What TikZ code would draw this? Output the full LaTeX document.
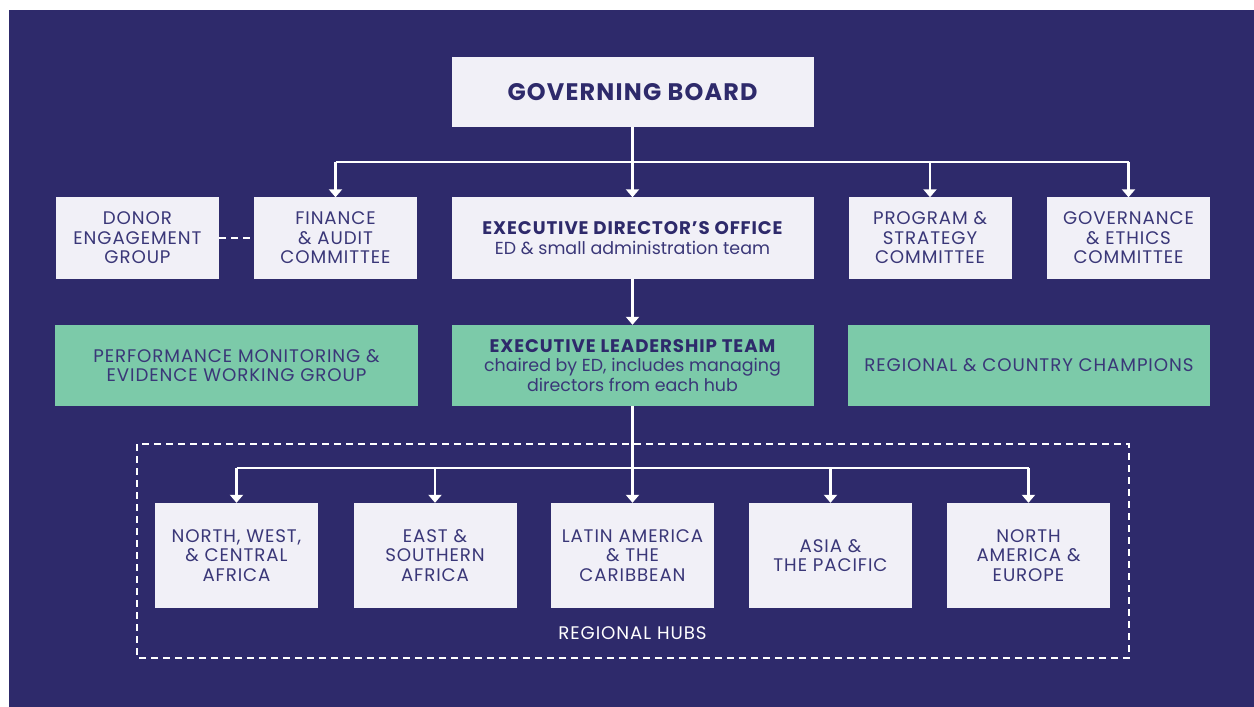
\documentclass[tikz,border=0pt]{standalone}
\usepackage{fontspec}
\setmainfont{Poppins}[LetterSpace=5]
\newfontfamily\plainfont{Poppins}
\usetikzlibrary{arrows.meta}

\definecolor{navy}{HTML}{2E2A6B}
\definecolor{paper}{HTML}{F1F0F7}
\definecolor{mint}{HTML}{7CCAA9}
\definecolor{ink}{HTML}{3A3778}

\newcommand{\lowerline}[1]{{\plainfont\fontsize{17.5}{19.5}\selectfont #1}}

\tikzset{
  base/.style={draw=none, inner sep=0pt, align=center, text=ink,
    font=\fontsize{18.3}{19.5}\selectfont},
  whitebox/.style={base, fill=paper},
  greenbox/.style={base, fill=mint},
  smallbox/.style={minimum width=163bp, minimum height=81bp},
  widebox/.style={minimum width=362bp, minimum height=81bp},
  hubbox/.style={whitebox, minimum width=163bp, minimum height=105bp},
  link/.style={draw=white, line width=2.2bp},
  arrowlink/.style={link, -{Triangle[width=13bp,length=8bp]}},
  dottedlink/.style={draw=white, line width=2.5bp, dash pattern=on 7bp off 5bp},
  hubframe/.style={draw=white, line width=2.5bp, dash pattern=on 7bp off 5bp}
}

\begin{document}
\begin{tikzpicture}[x=1bp,y=-1bp]
  \useasboundingbox (0,0) rectangle (1254,707);
  \fill[navy] (9,10) rectangle (1254,707);

  % board
  \node[whitebox, minimum width=362bp, minimum height=70bp,
        font=\fontsize{24}{26}\selectfont\bfseries, text=navy] (gb) at (632.5,92) {GOVERNING BOARD};

  % committees and office
  \node[whitebox, smallbox] (donor) at (137.5,238) {DONOR\\ENGAGEMENT\\GROUP};
  \node[whitebox, smallbox] (fin) at (335.5,238) {FINANCE\\\& AUDIT\\COMMITTEE};
  \node[whitebox, widebox] (edo) at (632.5,238)
    {{\bfseries\color{navy}EXECUTIVE DIRECTOR’S OFFICE}\\\lowerline{ED \& small administration team}};
  \node[whitebox, smallbox] (prog) at (930,238) {PROGRAM \&\\STRATEGY\\COMMITTEE};
  \node[whitebox, smallbox] (gov) at (1128.5,238) {GOVERNANCE\\\& ETHICS\\COMMITTEE};

  % leadership row
  \node[greenbox, widebox] (perf) at (236.5,365.5) {PERFORMANCE MONITORING \&\\EVIDENCE WORKING GROUP};
  \node[greenbox, widebox] (elt) at (632.5,365.5)
    {{\bfseries\color{navy}EXECUTIVE LEADERSHIP TEAM}\\\lowerline{chaired by ED, includes managing}\\\lowerline{directors from each hub}};
  \node[greenbox, widebox] (champ) at (1029,365.5) {REGIONAL \& COUNTRY CHAMPIONS};

  % regional hubs
  \node[hubbox] (hub1) at (236.5,555.5) {NORTH, WEST,\\\& CENTRAL\\AFRICA};
  \node[hubbox] (hub2) at (435,555.5) {EAST \&\\SOUTHERN\\AFRICA};
  \node[hubbox] (hub3) at (632.5,555.5) {LATIN AMERICA\\\& THE\\CARIBBEAN};
  \node[hubbox] (hub4) at (830.5,555.5) {ASIA \&\\THE PACIFIC};
  \node[hubbox] (hub5) at (1028.5,555.5) {NORTH\\AMERICA \&\\EUROPE};

  \draw[hubframe] (137,444) rectangle (1129,658);
  \node[base, text=white] (hublabel) at (632.5,633) {REGIONAL HUBS};

  % board to committees
  \coordinate (busA) at (632.5,162);
  \draw[link] (busA -| fin) -- (busA -| gov);
  \draw[arrowlink] (gb) -- (edo);
  \draw[arrowlink] (busA -| fin) -- (fin.north);
  \draw[arrowlink] (busA -| prog) -- (prog.north);
  \draw[arrowlink] (busA -| gov) -- (gov.north);
  \draw[dottedlink] (donor) -- (fin);

  % office to leadership
  \draw[arrowlink] (edo) -- (elt);

  % leadership to hubs
  \coordinate (busB) at (632.5,468);
  \draw[link] (busB -| hub1) -- (busB -| hub5);
  \draw[arrowlink] (elt) -- (hub3);
  \draw[arrowlink] (busB -| hub1) -- (hub1.north);
  \draw[arrowlink] (busB -| hub2) -- (hub2.north);
  \draw[arrowlink] (busB -| hub4) -- (hub4.north);
  \draw[arrowlink] (busB -| hub5) -- (hub5.north);
\end{tikzpicture}
\end{document}
